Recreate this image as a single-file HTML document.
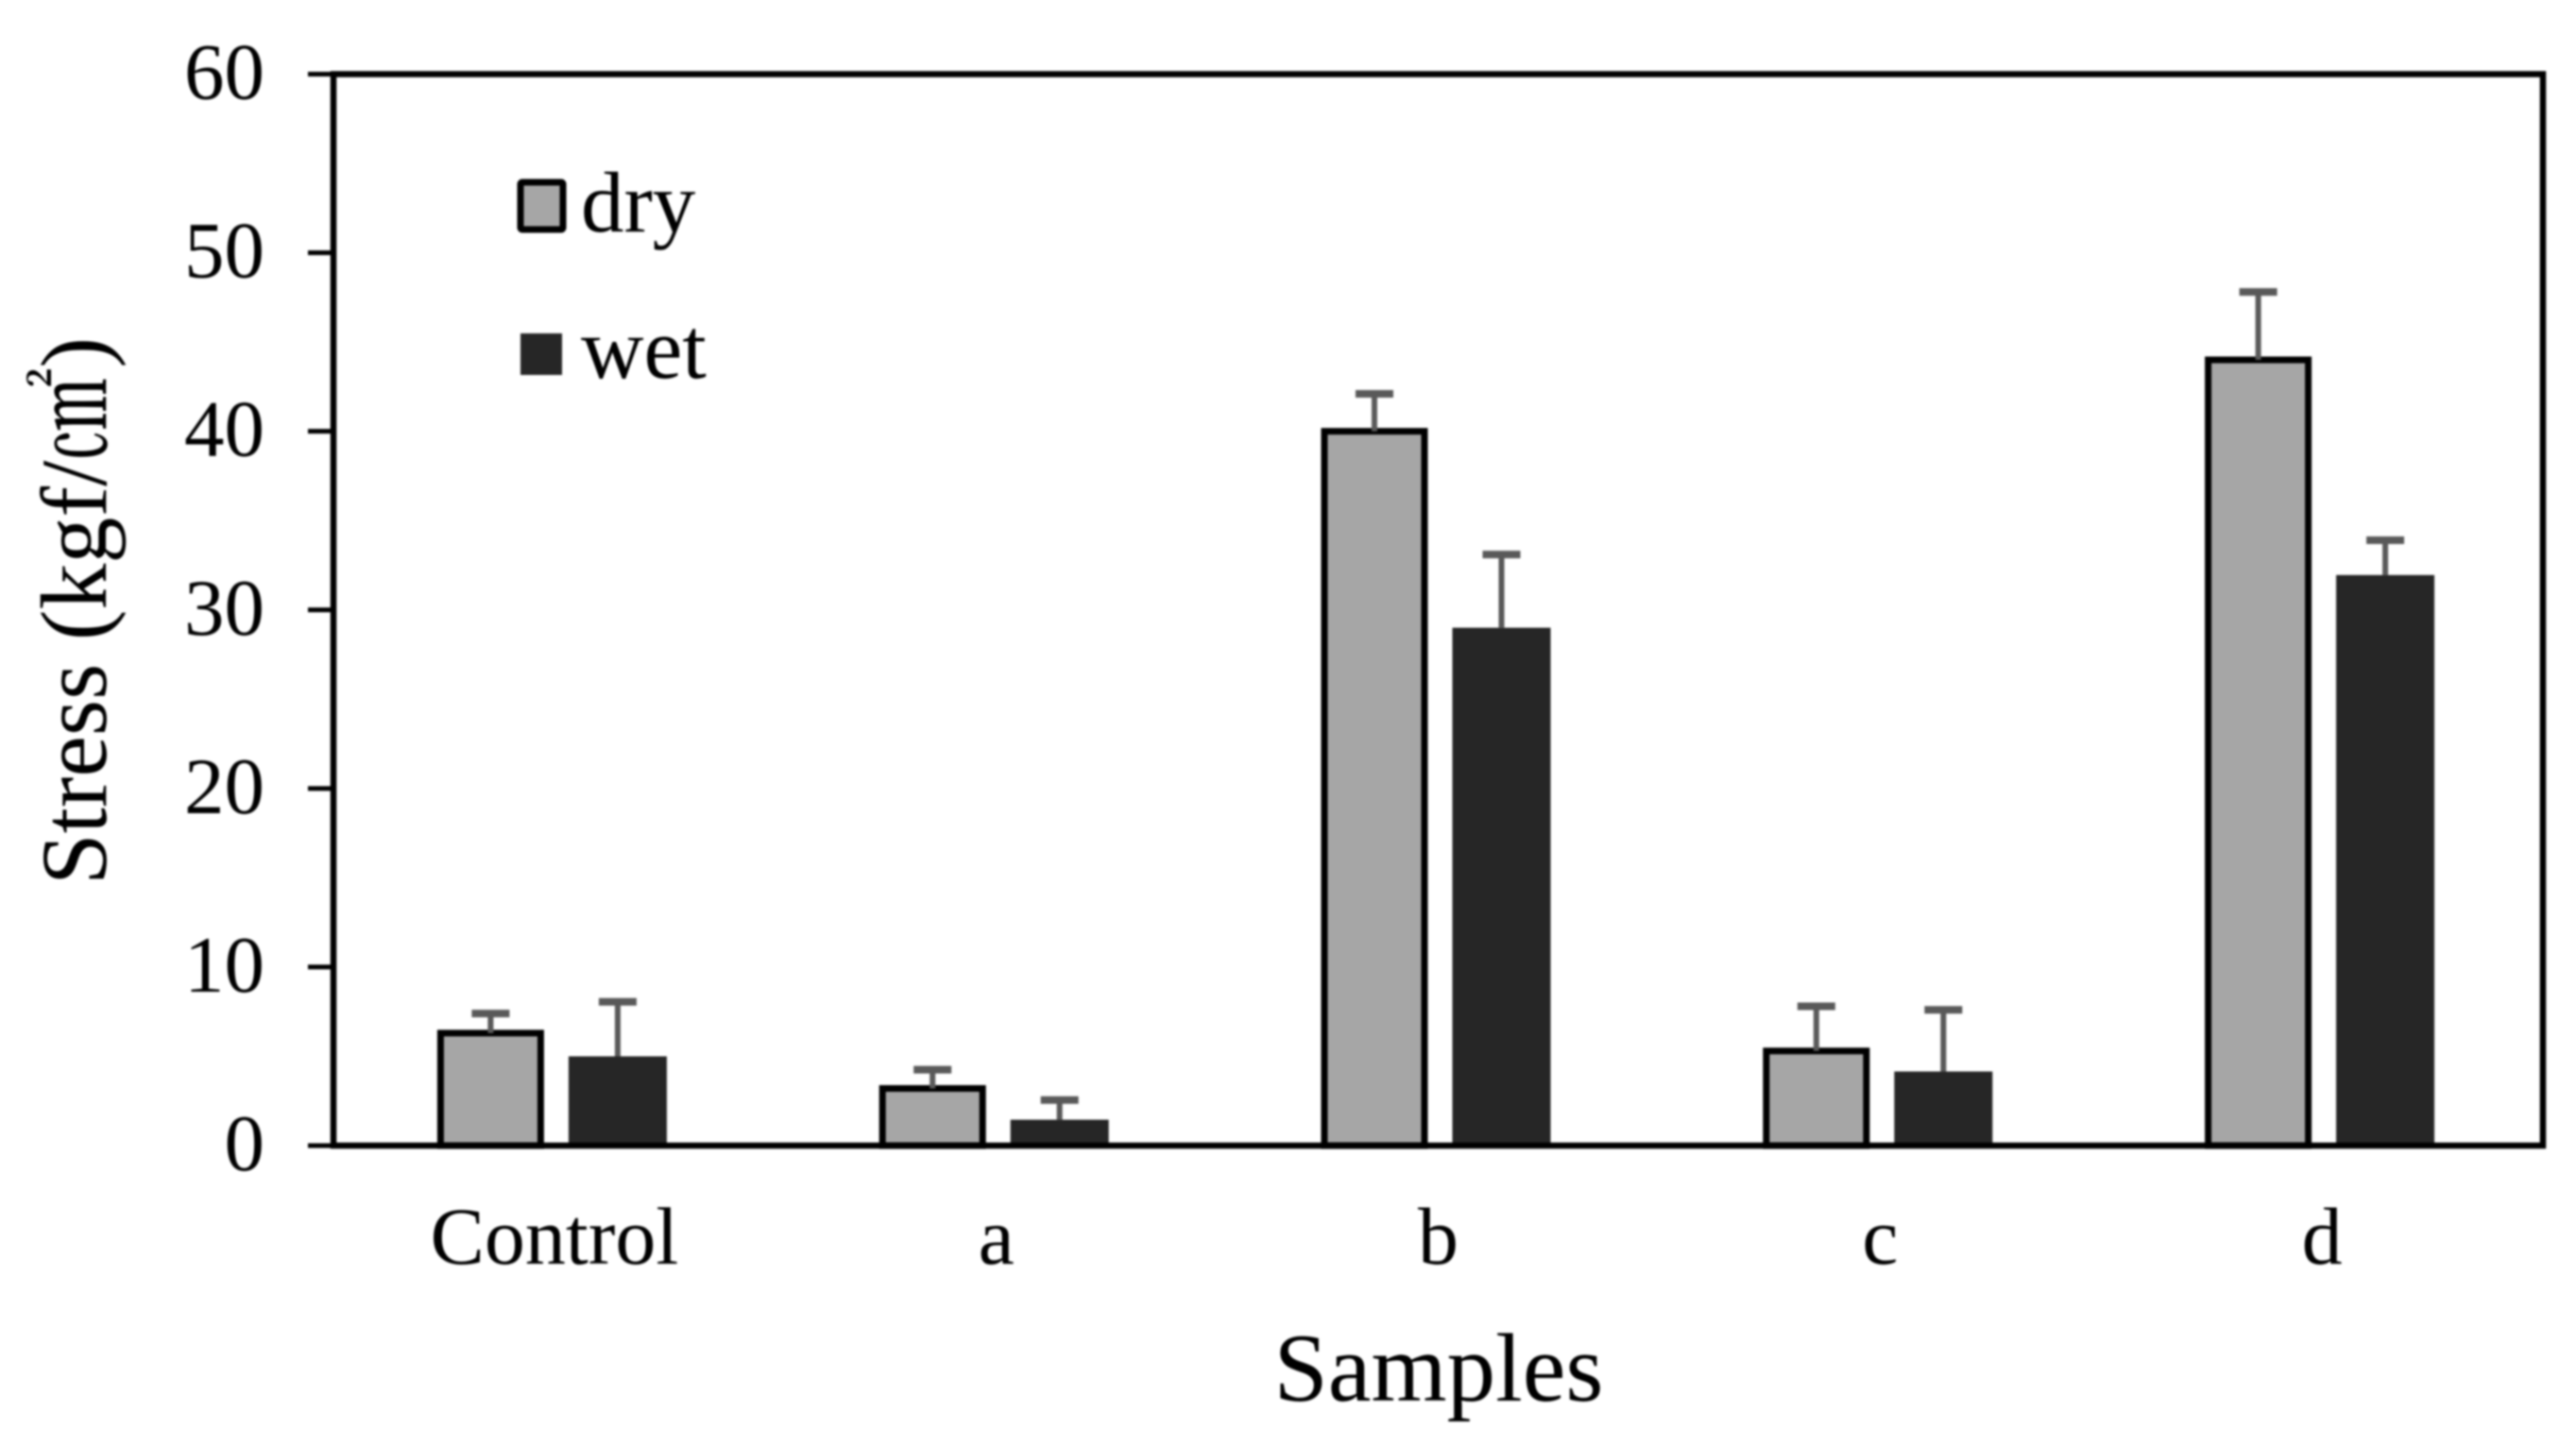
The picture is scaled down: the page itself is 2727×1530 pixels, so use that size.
<!DOCTYPE html>
<html lang="en">
<head>
<meta charset="utf-8">
<title>Stress by sample</title>
<style>
html,body{margin:0;padding:0;background:#fff;width:2727px;height:1530px;overflow:hidden}
svg{display:block;filter:blur(1.1px)}
text{font-family:"Liberation Serif","Noto Serif CJK SC",serif;fill:#000}
</style>
</head>
<body>
<svg id="chart" xmlns="http://www.w3.org/2000/svg" width="2727" height="1530" viewBox="0 0 2727 1530">
<rect width="2727" height="1530" fill="#fff"/>
</svg>
<script>
const categories = ['Control', 'a', 'b', 'c', 'd'];
const dryValues = [6.3, 3.2, 40.0, 5.3, 44.0];
const wetValues = [5.0, 1.45, 29.0, 4.15, 31.95];
const dryErrors = [1.1, 1.05, 2.1, 2.5, 3.8];
const wetErrors = [3.05, 1.1, 4.1, 3.45, 1.95];
const yTicks = [0, 10, 20, 30, 40, 50, 60];

const svg = document.getElementById('chart');
const NS = 'http://www.w3.org/2000/svg';
const left = 353, right = 2692, top_ = 78.5, bottom = 1213, yMax = 60;
const y = v => bottom - (v / yMax) * (bottom - top_);
const band = (right - left) / categories.length;
const cx = i => left + band * (i + 0.5);

function mk(tag, attrs, text) {
  const el = document.createElementNS(NS, tag);
  for (const k in attrs) el.setAttribute(k, attrs[k]);
  if (text !== undefined) el.textContent = text;
  svg.appendChild(el);
  return el;
}

function errorBar(x, value, err, series, cat) {
  const stem = mk('line', {x1: x, x2: x, y1: y(value), y2: y(value + err), stroke: '#595959', 'stroke-width': 6});
  
  
  const cap = mk('line', {x1: x - 20, x2: x + 20, y1: y(value + err), y2: y(value + err), stroke: '#595959', 'stroke-width': 8});
  
  
}

categories.forEach((cat, i) => {
  const dx = cx(i) - 67.5, wx = cx(i) + 67;
  const dryBar = mk('rect', {x: dx - 53, y: y(dryValues[i]), width: 106, height: bottom - y(dryValues[i]), fill: '#a6a6a6', stroke: '#000', 'stroke-width': 7});
  
  
  errorBar(dx, dryValues[i], dryErrors[i], 'dry', cat);
  errorBar(wx, wetValues[i], wetErrors[i], 'wet', cat);
  const wetBar = mk('rect', {x: wx - 52, y: y(wetValues[i]), width: 104, height: bottom - y(wetValues[i]), fill: '#262626'});
  
  
  const label = mk('text', {x: cx(i), y: 1338, 'text-anchor': 'middle', 'font-size': 86}, cat);
  
  
});

yTicks.forEach(t => {
  const tick = mk('line', {x1: 326, x2: left, y1: y(t), y2: y(t), stroke: '#000', 'stroke-width': 5});
  
  
  const label = mk('text', {x: 280, y: y(t) + 26, 'text-anchor': 'end', 'font-size': 85}, String(t));
  
  
});

const frame = mk('rect', {x: left, y: top_, width: right - left, height: bottom - top_, fill: 'none', stroke: '#000', 'stroke-width': 6.5});



const xTitle = mk('text', {x: 1523, y: 1483, 'text-anchor': 'middle', 'font-size': 103}, 'Samples');



const yTitle = mk('text', {x: 0, y: 0, 'text-anchor': 'middle', 'font-size': 100, textLength: 580, lengthAdjust: 'spacingAndGlyphs', transform: 'translate(112 647) rotate(-90)'}, 'Stress (kgf/㎠)');



const drySwatch = mk('rect', {x: 551, y: 193, width: 45, height: 50, fill: '#a6a6a6', stroke: '#000', 'stroke-width': 7, rx: 2});


const dryText = mk('text', {x: 615, y: 245, 'font-size': 91}, 'dry');


const wetSwatch = mk('rect', {x: 551, y: 353, width: 44, height: 44, fill: '#262626'});


const wetText = mk('text', {x: 615, y: 400, 'font-size': 92}, 'wet');


</script>
</body>
</html>
